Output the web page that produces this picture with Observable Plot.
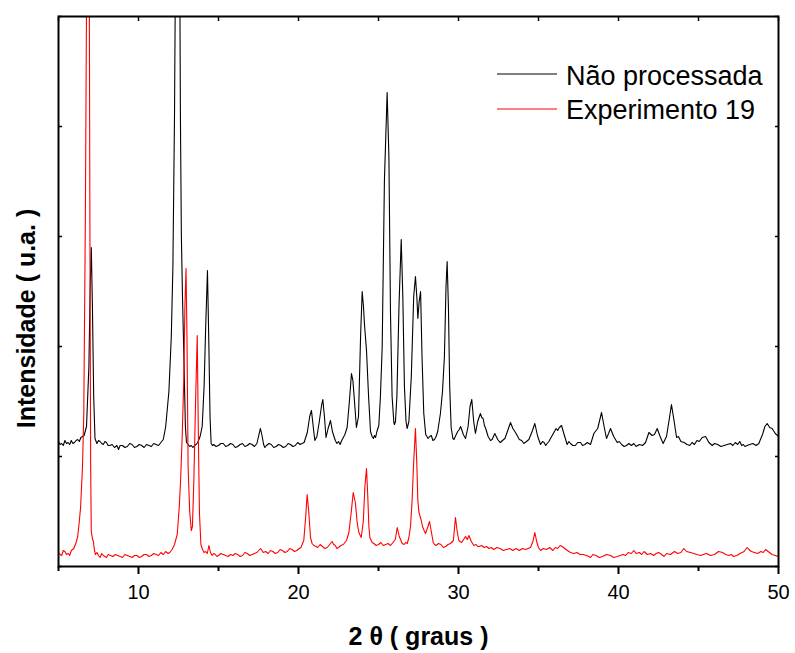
<!DOCTYPE html>
<html>
<head>
<meta charset="utf-8">
<script src="https://cdn.jsdelivr.net/npm/d3@7"></script>
<script src="https://cdn.jsdelivr.net/npm/@observablehq/plot@0.6"></script>
<style>
  html, body { margin: 0; padding: 0; background: #fff; }
</style>
</head>
<body>
<div id="chart"></div>
<script>
// ---- Data (2θ in degrees, intensity in arbitrary units) ----
const seriesNames = ["Não processada", "Experimento 19"];
const seriesColors = ["#000000", "#ff0000"];

const naoProcessada = [
  [5.0,125],[5.1,122],[5.2,123],[5.3,121],[5.4,126],[5.5,123],[5.6,124],[5.7,122],[5.8,126],[5.9,123],[6.0,124],[6.1,126],[6.2,127],[6.3,125],[6.4,129],[6.6,131],
  [6.75,140],[6.9,200],[6.98,280],[7.05,319],[7.12,260],[7.2,170],[7.28,128],[7.4,123],[7.5,126],
  [7.6,125],[7.7,123],[7.8,122],[7.9,125],[8.0,124],[8.1,121],[8.2,121],[8.35,122],[8.5,119],[8.65,121],[8.75,117],[8.85,121],[9.0,121],[9.15,119],[9.3,120],[9.45,123],[9.6,122],
  [9.75,119],[9.9,120],[10.05,122],[10.2,121],[10.35,119],[10.5,122],[10.65,121],[10.8,120],[10.95,123],[11.1,122],[11.25,121],[11.4,124],[11.55,127],[11.7,140],
  [11.9,175],[12.05,230],[12.15,300],[12.25,450],[12.35,700],[12.45,1000],[12.55,700],
  [12.62,450],[12.68,330],[12.75,270],[12.85,200],[12.93,140],[13.0,124],[13.1,122],[13.2,120],[13.3,121],
  [13.4,119],[13.5,121],[13.6,122],[13.7,124],[13.85,130],[13.98,140],[14.1,180],[14.2,240],[14.31,296],[14.4,220],
  [14.47,150],[14.54,123],[14.62,121],[14.7,122],[14.85,120],[15.0,121],[15.15,123],[15.3,123],[15.45,120],[15.6,121],[15.75,123],[15.9,122],[16.05,119],[16.2,120],
  [16.35,122],[16.5,123],[16.65,120],[16.8,121],[16.95,123],[17.1,122],[17.25,120],[17.4,123],[17.5,130],[17.62,138],[17.72,131],[17.82,122],
  [17.9,119],[18.0,121],[18.15,123],[18.3,122],[18.45,119],[18.6,120],[18.75,122],[18.9,121],[19.05,119],[19.2,120],[19.35,123],[19.5,122],[19.65,120],[19.8,121],[19.95,124],[20.1,122],
  [20.35,124],[20.55,134],[20.7,150],[20.81,156],[20.92,140],[21.02,126],[21.15,130],[21.3,145],
  [21.45,162],[21.52,167],[21.62,150],[21.72,129],[21.85,138],[22.0,146],[22.12,135],[22.3,126],
  [22.4,123],[22.5,125],[22.6,122],[22.7,126],[22.9,132],[23.04,139],[23.18,165],[23.31,193],[23.4,186],[23.5,165],
  [23.62,139],[23.75,150],[23.88,230],[23.98,275],[24.06,260],[24.12,243],[24.25,216],[24.38,170],
  [24.5,135],[24.6,130],[24.68,128],[24.75,131],[24.82,129],[24.9,135],[25.02,141],[25.12,170],[25.23,219],[25.37,386],
  [25.54,474],[25.65,410],[25.75,253],[25.85,170],[25.96,144],[26.0,142],[26.06,145],[26.15,170],[26.28,260],
  [26.42,327],[26.52,270],[26.62,180],[26.72,145],[26.79,138],[26.9,145],[27.05,190],[27.2,270],
  [27.31,290],[27.4,268],[27.46,248],[27.54,265],[27.63,275],[27.72,210],[27.83,153],[27.95,132],
  [28.1,128],[28.2,130],[28.3,131],[28.4,126],[28.5,127],[28.6,130],[28.7,135],[28.87,153],[29.0,175],[29.12,210],[29.22,280],
  [29.29,305],[29.37,260],[29.45,180],[29.54,139],[29.65,128],[29.72,127],[29.8,130],[29.95,135],[30.05,137],[30.13,140],
  [30.22,136],[30.3,132],[30.44,128],[30.6,140],[30.72,160],[30.83,167],[30.95,145],[31.06,133],[31.2,145],
  [31.37,153],[31.45,149],[31.54,148],[31.62,141],[31.7,138],[31.85,130],[32.0,126],[32.1,127],[32.27,133],[32.45,127],[32.55,125],[32.62,124],
  [32.75,126],[32.9,128],[33.1,137],[33.25,144],[33.4,138],[33.56,134],[33.7,130],[33.8,127],[33.95,126],[34.08,123],[34.25,125],[34.4,127],
  [34.6,135],[34.77,143],[34.95,130],[35.13,122],[35.25,125],[35.35,124],[35.45,121],[35.54,123],[35.65,125],[35.75,128],[35.96,134],
  [36.1,138],[36.2,136],[36.3,139],[36.44,141],[36.6,132],[36.79,122],[36.9,125],[37.0,123],[37.15,121],[37.3,121],[37.45,124],[37.63,124],[37.75,121],[37.9,122],
  [38.05,124],[38.25,122],[38.46,133],[38.6,136],[38.7,138],[38.82,146],[38.94,154],[39.1,140],[39.25,128],[39.38,133],[39.5,138],[39.7,130],
  [39.92,124],[40.05,125],[40.2,122],[40.35,120],[40.5,121],[40.65,123],[40.8,121],[40.96,123],[41.1,120],[41.3,122],[41.5,121],[41.69,124],[41.9,134],[42.1,131],
  [42.25,132],[42.42,138],[42.6,130],[42.79,123],[43.0,130],[43.15,145],[43.31,162],[43.45,148],
  [43.63,129],[43.75,130],[43.9,125],[44.1,124],[44.29,122],[44.45,121],[44.6,124],[44.75,122],[44.9,126],[45.05,125],[45.23,129],[45.44,130],[45.55,127],[45.65,124],
  [45.86,121],[46.0,123],[46.2,122],[46.4,120],[46.6,121],[46.8,122],[47.0,123],[47.15,121],[47.3,124],[47.45,122],[47.58,125],[47.7,121],[47.8,122],[47.9,120],[48.04,121],
  [48.2,122],[48.4,123],[48.6,121],[48.77,123],[49.0,132],[49.15,140],[49.29,143],[49.45,139],[49.6,138],[49.8,133],
  [50.0,130]
];

const experimento19 = [
  [5.0,14],[5.1,12],[5.2,11],[5.3,16],[5.4,15],[5.5,12],[5.6,13],[5.7,11],[5.8,16],[5.96,18],[6.1,24],[6.2,30],[6.3,45],[6.38,59],
  [6.5,100],[6.58,153],[6.68,350],[6.78,650],[6.85,750],[6.92,600],[6.97,300],[7.01,100],
  [7.05,35],[7.12,28],[7.18,25],[7.25,16],[7.31,12],[7.4,14],[7.5,11],[7.6,9],[7.7,13],[7.8,11],[7.9,10],[8.0,9],[8.1,12],[8.25,11],[8.4,10],
  [8.55,12],[8.7,11],[8.85,10],[9.0,9],[9.15,12],[9.3,11],[9.45,10],[9.6,9],[9.75,11],[9.9,11],[10.05,9],[10.2,10],[10.35,12],[10.5,12],[10.65,10],[10.8,11],[10.95,13],[11.1,12],[11.25,11],[11.4,14],
  [11.55,12],[11.7,15],[11.85,13],[11.95,14],[12.1,17],[12.25,22],[12.42,32],[12.55,60],[12.63,86],[12.73,130],
  [12.83,186],[12.9,260],[12.97,298],[13.03,230],[13.1,100],[13.2,55],[13.3,36],[13.37,40],
  [13.46,86],[13.56,160],[13.67,231],[13.75,120],[13.81,53],[13.9,22],[14.0,17],[14.1,14],[14.2,15],[14.3,13],
  [14.4,21],[14.5,14],[14.6,11],[14.7,13],[14.8,12],[14.9,10],[15.0,11],[15.15,13],[15.3,12],[15.45,11],[15.6,10],[15.75,12],[15.9,11],[16.05,13],[16.2,12],
  [16.35,10],[16.5,11],[16.65,14],[16.8,13],[16.95,11],[17.1,12],[17.25,13],[17.4,14],[17.63,18],[17.8,14],[17.95,15],[18.1,13],[18.25,16],[18.4,15],[18.55,13],[18.7,14],
  [18.85,17],[19.0,16],[19.15,14],[19.3,15],[19.45,18],[19.6,17],[19.75,15],[19.9,16],[20.05,18],[20.15,19],[20.33,26],[20.45,50],[20.54,72],[20.64,55],
  [20.75,29],[20.85,23],[20.96,21],[21.1,20],[21.2,19],[21.35,22],[21.5,20],[21.65,18],[21.8,19],[21.95,22],[22.1,25],[22.2,22],[22.3,21],[22.4,18],[22.5,19],[22.65,21],[22.8,22],
  [23.0,26],[23.15,34],[23.3,55],[23.42,74],[23.5,68],[23.56,63],[23.66,45],[23.77,34],[23.92,29],
  [24.05,45],[24.15,80],[24.25,98],[24.33,70],[24.4,40],[24.46,29],[24.6,24],[24.71,23],[24.85,21],[25.0,22],[25.15,24],[25.3,21],
  [25.45,22],[25.6,23],[25.75,21],[25.9,24],[26.05,27],[26.17,39],[26.3,30],[26.48,23],[26.6,22],[26.7,24],[26.8,23],[26.9,29],[27.0,40],
  [27.1,66],[27.2,105],[27.31,138],[27.4,100],[27.46,66],[27.52,55],[27.58,51],[27.66,47],
  [27.75,40],[27.85,36],[27.94,33],[28.05,38],[28.19,45],[28.3,35],[28.42,24],[28.5,22],[28.6,21],[28.75,23],
  [28.9,22],[29.05,19],[29.2,20],[29.35,22],[29.5,23],[29.68,26],[29.81,49],[29.92,35],[30.02,26],[30.1,25],[30.2,24],[30.32,27],[30.44,30],
  [30.55,27],[30.65,31],[30.8,25],[30.96,21],[31.1,22],[31.2,20],[31.3,20],[31.45,21],[31.6,19],[31.75,20],[31.9,18],[32.05,19],[32.2,17],[32.4,19],[32.6,18],
  [32.8,16],[33.0,17],[33.2,18],[33.4,16],[33.6,18],[33.8,16],[34.0,18],[34.2,17],[34.35,18],[34.5,19],[34.65,25],[34.77,34],[34.9,24],[35.0,19],[35.13,16],
  [35.3,18],[35.5,17],[35.7,19],[35.9,16],[36.05,19],[36.2,18],[36.35,21],[36.48,20],[36.65,18],[36.8,16],[37.0,14],[37.21,13],[37.4,14],[37.6,12],[37.8,12],[38.0,11],[38.25,9],
  [38.4,12],[38.6,11],[38.8,9],[39.0,10],[39.25,12],[39.5,11],[39.7,9],[39.92,10],[40.1,11],[40.3,12],[40.45,11],[40.6,14],[40.8,13],[40.96,16],[41.1,13],[41.3,14],[41.45,12],[41.6,15],
  [41.8,12],[42.0,13],[42.2,11],[42.35,13],[42.5,14],[42.7,12],[42.85,10],[43.0,13],[43.25,12],[43.5,15],[43.7,13],[43.9,14],[44.08,18],[44.25,15],[44.5,14],[44.7,13],[44.9,12],[45.13,11],
  [45.3,12],[45.5,13],[45.75,11],[46.0,12],[46.25,15],[46.5,14],[46.7,12],[46.9,11],[47.05,12],[47.2,10],[47.4,11],[47.6,13],[47.85,15],[48.04,19],[48.15,17],[48.3,15],[48.5,14],[48.7,13],
  [48.9,15],[49.05,14],[49.19,17],[49.35,15],[49.6,12],[49.8,11],[50.0,10]
];

const xMajorTicks = [10, 20, 30, 40, 50];
const xMinorTicks = [5, 15, 25, 35, 45];
const xAllTicks = [5, 10, 15, 20, 25, 30, 35, 40, 45, 50];
const yTicks = [0, 110, 220, 330, 440, 550];
const xTitle = "2 θ ( graus )";
const yTitle = "Intensidade ( u.a. )";

// ---- Chart ----
const font = "'Liberation Sans', Arial, Helvetica, sans-serif";
const chart = Plot.plot({
  width: 795,
  height: 653,
  marginLeft: 58,
  marginRight: 17,
  marginTop: 16,
  marginBottom: 87,
  x: {domain: [5, 50]},
  y: {domain: [0, 550]},
  style: {fontFamily: font, background: "#fff", color: "#000", overflow: "visible"},
  marks: [
    Plot.line(naoProcessada, {x: d => d[0], y: d => d[1], stroke: seriesColors[0], strokeWidth: 1.1, clip: true}),
    Plot.line(experimento19, {x: d => d[0], y: d => d[1], stroke: seriesColors[1], strokeWidth: 1.1, clip: true}),
    Plot.frame({strokeWidth: 2}),
    Plot.axisX(xMajorTicks, {anchor: "bottom", tickSize: 8, tickPadding: 10, fontSize: 20, strokeWidth: 2, label: null}),
    Plot.axisX(xMinorTicks, {anchor: "bottom", tickSize: 5, strokeWidth: 2, tickFormat: () => "", label: null}),
    Plot.axisX(xAllTicks, {anchor: "top", tickSize: 4, insetTop: 4, strokeWidth: 1.5, tickFormat: () => "", label: null}),
    Plot.axisY(yTicks, {anchor: "left", tickSize: 4, insetLeft: 4, strokeWidth: 1.5, tickFormat: () => "", label: null}),
    Plot.axisY(yTicks, {anchor: "right", tickSize: 4, insetRight: 4, strokeWidth: 1.5, tickFormat: () => "", label: null}),
    Plot.text([xTitle], {text: d => d, frameAnchor: "bottom", dy: 70, fontSize: 25, fontWeight: "bold", textAnchor: "middle", lineAnchor: "middle"}),
    Plot.text([yTitle], {text: d => d, frameAnchor: "left", dx: -32, dy: 27, rotate: -90, fontSize: 25, fontWeight: "bold", textAnchor: "middle", lineAnchor: "middle"})
  ]
});

// ---- Legend (inside the frame, top right) ----
const svg = d3.select(chart);
const legend = svg.append("g")
  .attr("font-family", font)
  .attr("font-size", 27)
  .attr("text-anchor", "start");
const legendRows = [{y: 74, base: 85}, {y: 109, base: 119}];
seriesNames.forEach((name, i) => {
  legend.append("line")
    .attr("x1", 497).attr("x2", 557)
    .attr("y1", legendRows[i].y).attr("y2", legendRows[i].y)
    .attr("stroke", seriesColors[i]).attr("stroke-width", 1.1);
  legend.append("text")
    .attr("x", 566).attr("y", legendRows[i].base)
    .attr("text-anchor", "start")
    .attr("fill", "#000")
    .text(name);
});

document.getElementById("chart").appendChild(chart);
</script>
</body>
</html>
